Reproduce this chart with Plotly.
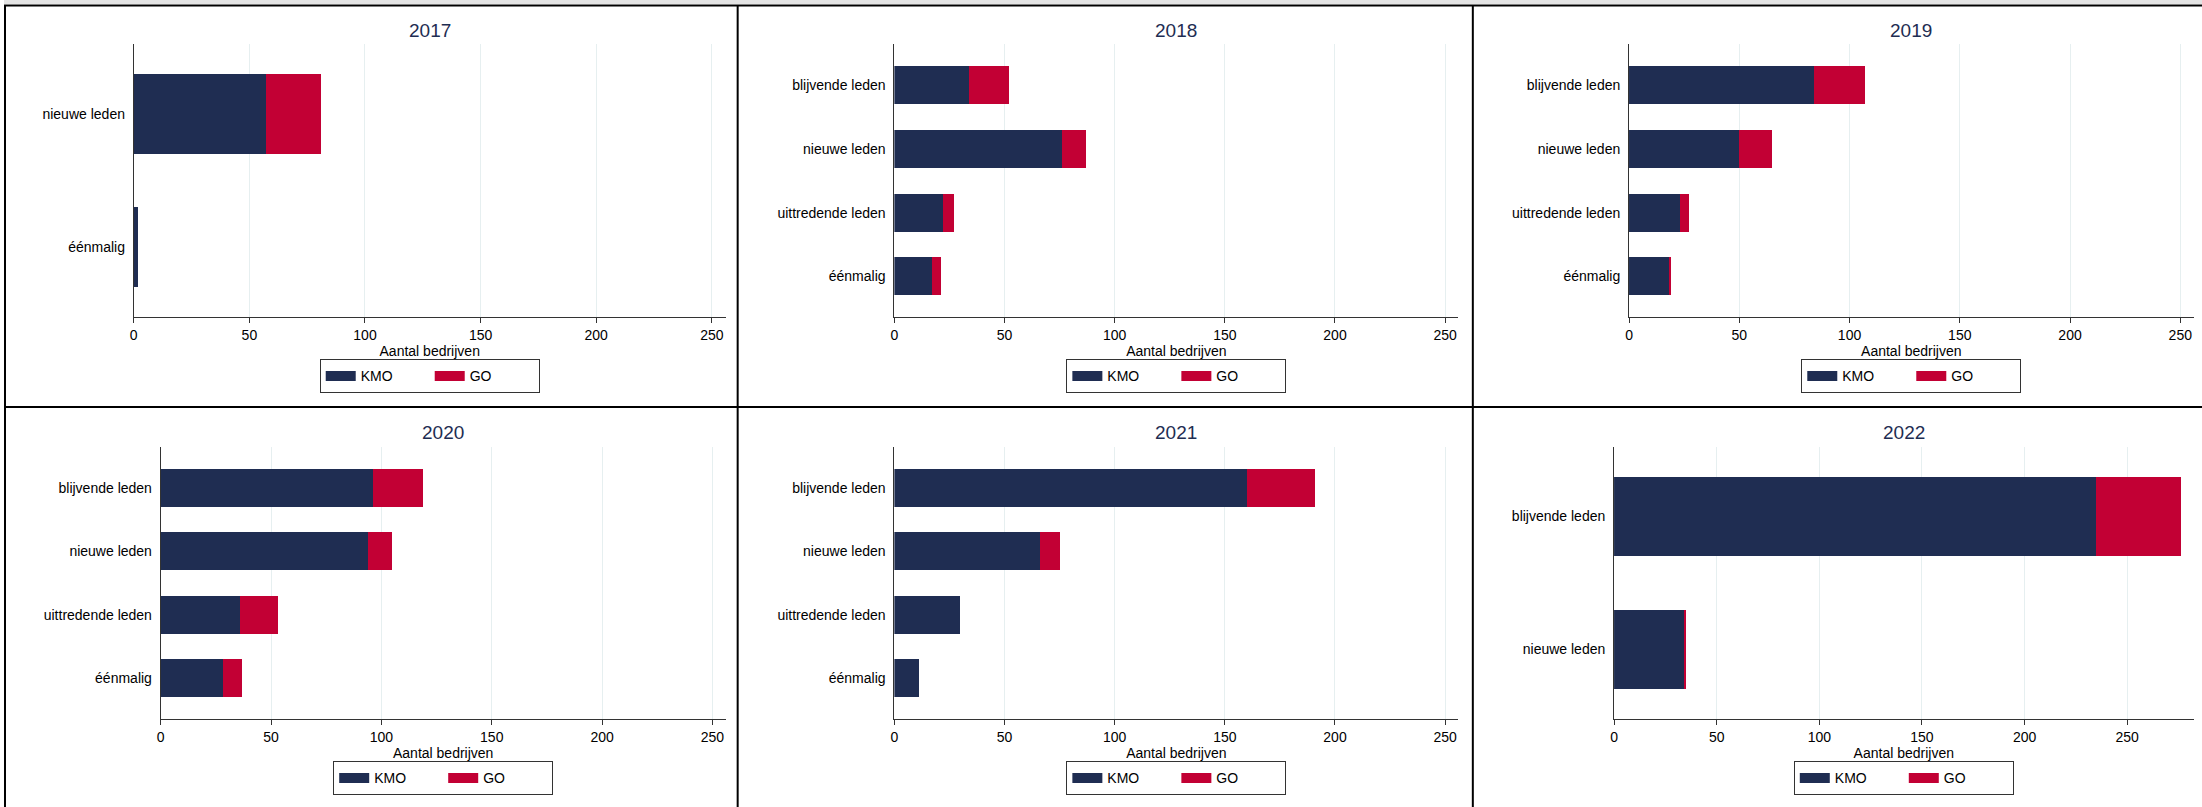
import plotly.graph_objects as go

# data (Aantal bedrijven per jaar)
years = ['2017', '2018', '2019', '2020', '2021', '2022']

cats_2017 = ['nieuwe leden', 'éénmalig']
kmo_2017 = [57, 2]
go_2017 = [24, 0]

cats_2018 = ['blijvende leden', 'nieuwe leden', 'uittredende leden', 'éénmalig']
kmo_2018 = [34, 76, 22, 17]
go_2018 = [18, 11, 5, 4]

cats_2019 = ['blijvende leden', 'nieuwe leden', 'uittredende leden', 'éénmalig']
kmo_2019 = [84, 50, 23, 18]
go_2019 = [23, 15, 4, 1]

cats_2020 = ['blijvende leden', 'nieuwe leden', 'uittredende leden', 'éénmalig']
kmo_2020 = [96, 94, 36, 28]
go_2020 = [23, 11, 17, 9]

cats_2021 = ['blijvende leden', 'nieuwe leden', 'uittredende leden', 'éénmalig']
kmo_2021 = [160, 66, 30, 11]
go_2021 = [31, 9, 0, 0]

cats_2022 = ['blijvende leden', 'nieuwe leden']
kmo_2022 = [235, 34]
go_2022 = [41, 1]

x_ticks = [0, 50, 100, 150, 200, 250]

KMO_COLOR = '#1f2d52'
GO_COLOR = '#c20034'
TITLE_COLOR = '#1e2d52'
FONT = 'Liberation Sans, Arial, sans-serif'

W, H = 2202, 807


def px(x):
    return x / W


def py(y):
    return 1 - y / H


# plot areas in pixels: (x0, x1), (ytop, ybottom), x max
geom = [
    ((130, 723), (44.3, 317.3), 256),
    ((892, 1457), (44.3, 317.3), 256),
    ((1628, 2193.5), (44.3, 317.3), 256),
    ((157, 723), (446.7, 719.3), 256),
    ((892, 1457), (446.7, 719.3), 256),
    ((1613, 2193.5), (446.7, 719.3), 282.3),
]

panels = [
    (cats_2017, kmo_2017, go_2017),
    (cats_2018, kmo_2018, go_2018),
    (cats_2019, kmo_2019, go_2019),
    (cats_2020, kmo_2020, go_2020),
    (cats_2021, kmo_2021, go_2021),
    (cats_2022, kmo_2022, go_2022),
]

fig = go.Figure()
layout = dict(
    width=W, height=H,
    margin=dict(l=0, r=0, t=0, b=0),
    paper_bgcolor='white', plot_bgcolor='white',
    font=dict(family=FONT, size=14, color='black'),
    barmode='stack',
    showlegend=True,
)
annotations = []
shapes = []

for i, (year, (cats, kmo, gov), ((x0, x1), (yt, yb), xmax)) in enumerate(zip(years, panels, geom)):
    n = i + 1
    sfx = '' if n == 1 else str(n)
    xa, ya = 'x' + sfx, 'y' + sfx
    lg = 'legend' + sfx

    fig.add_trace(go.Bar(y=cats, x=kmo, orientation='h', name='KMO', marker_color=KMO_COLOR,
                         marker_line_width=0, width=0.6, xaxis=xa, yaxis=ya, showlegend=False))
    fig.add_trace(go.Bar(y=cats, x=gov, orientation='h', name='GO', marker_color=GO_COLOR,
                         marker_line_width=0, width=0.6, xaxis=xa, yaxis=ya, showlegend=False))
    # legend swatches
    for name, col in [('KMO', KMO_COLOR), ('GO', GO_COLOR)]:
        fig.add_trace(go.Scatter(x=[None], y=[None], mode='lines', name=name,
                                 line=dict(color=col, width=14), xaxis=xa, yaxis=ya,
                                 legend=lg, hoverinfo='skip'))

    pad = 0.525 if len(cats) == 2 else 0.645
    layout['xaxis' + sfx] = dict(
        domain=[px(x0), px(x1)], anchor=ya, range=[0, xmax],
        tickvals=x_ticks, ticks='outside', ticklen=5, tickcolor='#333',
        showline=True, linecolor='#333', linewidth=1,
        showgrid=True, gridcolor='#e6eff0', gridwidth=1, zeroline=False,
        tickfont=dict(size=14, color='black'),
        title=dict(text='Aantal bedrijven', font=dict(size=14, color='black'), standoff=0),
        fixedrange=True,
    )
    layout['yaxis' + sfx] = dict(
        domain=[py(yb), py(yt)], anchor=xa, type='category',
        categoryorder='array', categoryarray=cats,
        range=[len(cats) - 1 + pad, -pad],
        showline=True, linecolor='#333', linewidth=1, showgrid=False,
        ticks='', ticklabelstandoff=5,
        tickfont=dict(size=14, color='black'),
        fixedrange=True,
    )
    xc = px((x0 + x1) / 2)
    layout[lg] = dict(
        x=xc, y=py(yb + 42), xanchor='center', yanchor='top', orientation='h',
        traceorder='normal',
        bordercolor='#333', borderwidth=1, bgcolor='white',
        font=dict(size=14, color='black'), entrywidth=64, itemclick=False,
    )
    annotations.append(dict(
        text=year, x=xc, y=py(yt - 14), xref='paper', yref='paper',
        xanchor='center', yanchor='middle', showarrow=False,
        font=dict(size=19, color=TITLE_COLOR),
    ))

# panel frames
shapes.append(dict(type='rect', xref='paper', yref='paper', x0=0, x1=1, y0=py(4), y1=1,
                   fillcolor='#e4e4e4', line_width=0, layer='below'))
for (xa0, ya0, xa1, ya1) in [(0, 5.5, W, 5.5), (0, 407, W, 407), (1, 5, 1, H),
                             (735, 5, 735, H), (1471.5, 5, 1471.5, H)]:
    shapes.append(dict(type='line', xref='paper', yref='paper',
                       x0=px(xa0), x1=px(xa1), y0=py(ya0), y1=py(ya1),
                       line=dict(color='black', width=2)))

layout['annotations'] = annotations
layout['shapes'] = shapes
fig.update_layout(**layout)

fig.write_html('out.html', config=dict(displayModeBar=False),
               post_script="document.body.style.margin='0';")
